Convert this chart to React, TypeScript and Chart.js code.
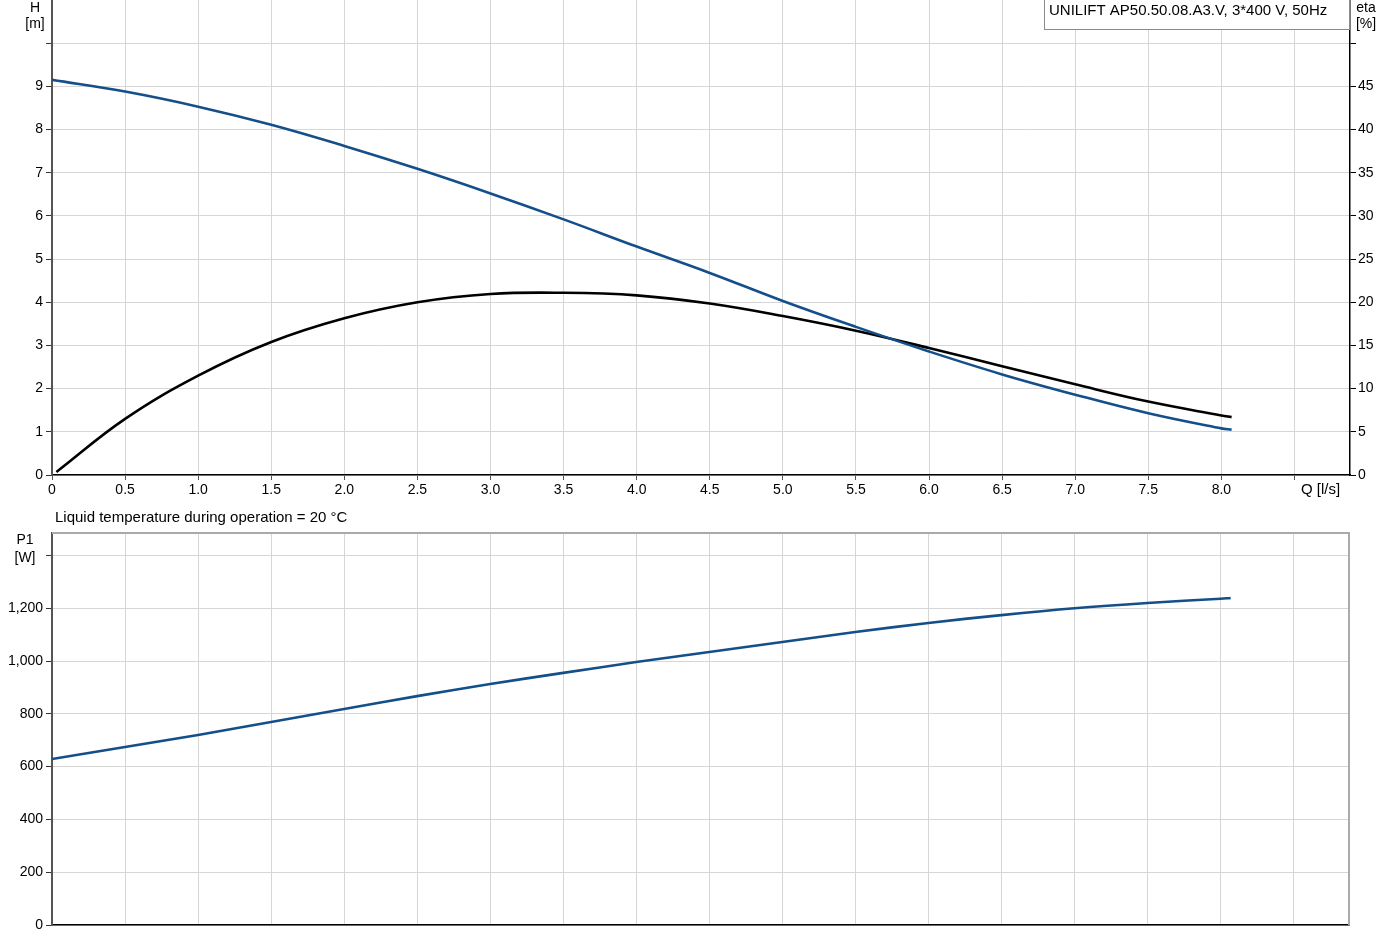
import React, { useEffect, useRef } from "react";
import { Chart, registerables } from "chart.js";
Chart.register(...registerables);

const flowQ = [0, 0.5, 1.0, 1.5, 2.0, 2.5, 3.0, 3.5, 4.0, 4.5, 5.0, 5.5, 6.0, 6.5, 7.0, 7.5, 8.0, 8.07];
const headH = [9.15, 8.88, 8.53, 8.11, 7.62, 7.09, 6.52, 5.92, 5.29, 4.68, 4.03, 3.43, 2.86, 2.33, 1.86, 1.43, 1.08, 1.05];
const effQ = [0.03, 0.5, 1.0, 1.5, 2.0, 2.5, 3.0, 3.5, 4.0, 4.5, 5.0, 5.5, 6.0, 6.5, 7.0, 7.5, 8.0, 8.07];
const effEta = [0.35, 6.5, 11.5, 15.4, 18.15, 20.0, 20.96, 21.1, 20.8, 19.85, 18.4, 16.7, 14.7, 12.6, 10.5, 8.5, 6.9, 6.7];
const powerP1 = [629, 674, 720, 769, 818, 867, 913, 955, 996, 1034, 1072, 1110, 1144, 1174, 1200, 1220, 1236, 1239];

const hTickLabels = ["0", "1", "2", "3", "4", "5", "6", "7", "8", "9"];
const etaTickLabels = ["0", "5", "10", "15", "20", "25", "30", "35", "40", "45"];
const qTickLabels = ["0", "0.5", "1.0", "1.5", "2.0", "2.5", "3.0", "3.5", "4.0", "4.5", "5.0", "5.5", "6.0", "6.5", "7.0", "7.5", "8.0"];
const p1TickLabels = ["0", "200", "400", "600", "800", "1,000", "1,200"];

const legendText = "UNILIFT AP50.50.08.A3.V, 3*400 V, 50Hz";
const noteText = "Liquid temperature during operation = 20 °C";

const FONT = "'Liberation Sans', Arial, sans-serif";
const BLUE = "#144f8a";
const GRID = "#d6d6d6";

const xy = (xs: number[], ys: number[]) => xs.map((x, i) => ({ x, y: ys[i] }));

const fixW = (w: number) => (s: any) => {
  s.width = w;
  s.paddingTop = 0;
  s.paddingBottom = 0;
};
const fixH = (h: number) => (s: any) => {
  s.height = h;
  s.paddingLeft = 0;
  s.paddingRight = 0;
};

export default function App() {
  const topRef = useRef<HTMLCanvasElement>(null);
  const botRef = useRef<HTMLCanvasElement>(null);

  useEffect(() => {
    const tickFont = { family: FONT, size: 14 };
    const textPlugin = {
      id: "texts",
      afterDraw(chart: any) {
        const ctx = chart.ctx;
        ctx.save();
        ctx.font = `14px ${FONT}`;
        ctx.fillStyle = "#000";
        ctx.textBaseline = "middle";
        ctx.textAlign = "center";
        ctx.fillText("H", 35, 8);
        ctx.fillText("[m]", 35, 24);
        ctx.fillText("eta", 1366, 8);
        ctx.fillText("[%]", 1366, 24);
        ctx.textAlign = "left";
        ctx.font = `15px ${FONT}`;
        ctx.fillText("Q [l/s]", 1301, 490);
        // legend box
        ctx.fillStyle = "#fff";
        ctx.fillRect(1044.5, 0, 305, 29.5);
        ctx.strokeStyle = "#8a8a8a";
        ctx.lineWidth = 1;
        ctx.strokeRect(1044.5, -1, 305, 30.5);
        ctx.fillStyle = "#000";
        ctx.fillText(legendText, 1049, 11);
        ctx.restore();
      },
    };

    const top = new Chart(topRef.current!, {
      type: "line",
      data: {
        datasets: [
          {
            data: xy(flowQ, headH),
            borderColor: BLUE,
            borderWidth: 2.6,
            pointRadius: 0,
            tension: 0.4,
            yAxisID: "y",
          },
          {
            data: xy(effQ, effEta),
            borderColor: "#000",
            borderWidth: 2.6,
            pointRadius: 0,
            tension: 0.4,
            yAxisID: "y2",
          },
        ],
      },
      options: {
        animation: false,
        responsive: false,
        maintainAspectRatio: false,
        layout: { padding: 0 },
        plugins: { legend: { display: false }, tooltip: { enabled: false } },
        scales: {
          x: {
            type: "linear",
            min: 0,
            max: 8.88,
            afterBuildTicks: (s: any) => {
              const t = [];
              for (let i = 0; i <= 17; i++) t.push({ value: i * 0.5 });
              s.ticks = t;
            },
            afterFit: fixH(30),
            ticks: {
              font: tickFont,
              color: "#000",
              padding: 2,
              maxRotation: 0,
              autoSkip: false,
              callback: (v: any, i: number) => qTickLabels[i] ?? "",
            },
            grid: { color: GRID, tickColor: "#555", tickLength: 5, lineWidth: 1 },
            border: { color: "#000", width: 1.5 },
          },
          y: {
            type: "linear",
            position: "left",
            min: 0,
            max: 11,
            afterBuildTicks: (s: any) => {
              const t = [];
              for (let i = 0; i <= 10; i++) t.push({ value: i });
              s.ticks = t;
            },
            afterFit: fixW(52),
            ticks: {
              font: tickFont,
              color: "#000",
              padding: 3,
              callback: (v: any, i: number) => hTickLabels[i] ?? "",
            },
            grid: { color: GRID, tickColor: "#333", tickLength: 6, lineWidth: 1 },
            border: { color: "#555", width: 2 },
          },
          y2: {
            type: "linear",
            position: "right",
            min: 0,
            max: 55,
            afterBuildTicks: (s: any) => {
              const t = [];
              for (let i = 0; i <= 10; i++) t.push({ value: i * 5 });
              s.ticks = t;
            },
            afterFit: fixW(35),
            ticks: {
              font: tickFont,
              color: "#000",
              padding: 2,
              callback: (v: any, i: number) => etaTickLabels[i] ?? "",
            },
            grid: { drawOnChartArea: false, tickColor: "#000", tickLength: 6 },
            border: { color: "#000", width: 1.5 },
          },
        },
      },
      plugins: [textPlugin],
    } as any);

    const botPlugin = {
      id: "botTexts",
      afterDraw(chart: any) {
        const ctx = chart.ctx;
        const a = chart.chartArea;
        ctx.save();
        ctx.strokeStyle = "#aaa";
        ctx.lineWidth = 2;
        ctx.beginPath();
        ctx.moveTo(a.left, a.top);
        ctx.lineTo(a.right, a.top);
        ctx.lineTo(a.right, a.bottom);
        ctx.stroke();
        ctx.font = `14px ${FONT}`;
        ctx.fillStyle = "#000";
        ctx.textBaseline = "middle";
        ctx.textAlign = "center";
        ctx.fillText("P1", 25, 35);
        ctx.fillText("[W]", 25, 53);
        ctx.textAlign = "left";
        ctx.font = `15px ${FONT}`;
        ctx.fillText(noteText, 55, 13);
        ctx.restore();
      },
    };

    const bot = new Chart(botRef.current!, {
      type: "line",
      data: {
        datasets: [
          {
            data: xy(flowQ, powerP1),
            borderColor: BLUE,
            borderWidth: 2.6,
            pointRadius: 0,
            tension: 0.4,
          },
        ],
      },
      options: {
        animation: false,
        responsive: false,
        maintainAspectRatio: false,
        layout: { padding: { top: 28, right: 36, left: 0, bottom: 0 } },
        plugins: { legend: { display: false }, tooltip: { enabled: false } },
        scales: {
          x: {
            type: "linear",
            min: 0,
            max: 8.88,
            afterBuildTicks: (s: any) => {
              const t = [];
              for (let i = 0; i <= 17; i++) t.push({ value: i * 0.5 });
              s.ticks = t;
            },
            afterFit: fixH(26),
            ticks: { display: false },
            grid: { color: GRID, drawTicks: false, lineWidth: 1 },
            border: { color: "#000", width: 1.5 },
          },
          y: {
            type: "linear",
            position: "left",
            min: 0,
            max: 1485,
            afterBuildTicks: (s: any) => {
              const t = [];
              for (let i = 0; i <= 7; i++) t.push({ value: i * 200 });
              s.ticks = t;
            },
            afterFit: fixW(52),
            ticks: {
              font: tickFont,
              color: "#000",
              padding: 3,
              callback: (v: any, i: number) => p1TickLabels[i] ?? "",
            },
            grid: { color: GRID, tickColor: "#333", tickLength: 6, lineWidth: 1 },
            border: { color: "#555", width: 2 },
          },
        },
      },
      plugins: [botPlugin],
    } as any);

    return () => {
      top.destroy();
      bot.destroy();
    };
  }, []);

  return (
    <div style={{ position: "fixed", left: 0, top: 0, width: 1385, height: 951, background: "#fff" }}>
      <canvas ref={topRef} width={1385} height={505} style={{ position: "absolute", left: 0, top: 0, width: 1385, height: 505 }} />
      <canvas ref={botRef} width={1385} height={446} style={{ position: "absolute", left: 0, top: 505, width: 1385, height: 446 }} />
    </div>
  );
}
